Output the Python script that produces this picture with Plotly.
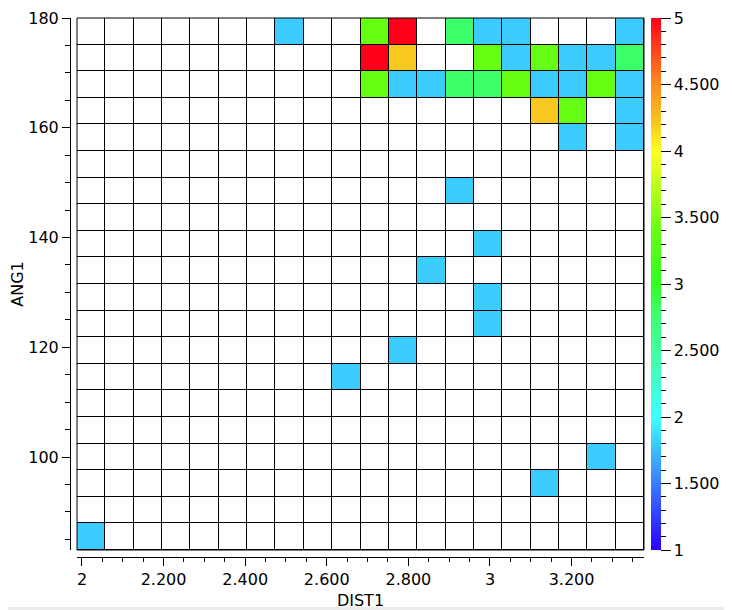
import plotly.graph_objects as go

# ---------------- data ----------------
dist_min, dist_max = 1.9878, 3.3775
ang_min, ang_max = 83.07, 180.0
n_dist_bins = 20
n_ang_bins = 20

# occupied cells: row counted from the top (ANG1 = 180 side), column from left (DIST1 = 2 side)
cell_row = [0, 0, 0, 0, 0, 0, 0,
            1, 1, 1, 1, 1, 1, 1, 1,
            2, 2, 2, 2, 2, 2, 2, 2, 2, 2,
            3, 3, 3,
            4, 4,
            6, 8, 9, 10, 11, 12, 13, 16, 17, 19]
cell_col = [7, 10, 11, 13, 14, 15, 19,
            10, 11, 14, 15, 16, 17, 18, 19,
            10, 11, 12, 13, 14, 15, 16, 17, 18, 19,
            16, 17, 19,
            17, 19,
            13, 14, 12, 14, 14, 11, 9, 18, 16, 0]
cell_value = [1.8, 3.4, 5.0, 2.8, 1.8, 1.8, 1.8,
              5.0, 4.2, 3.4, 1.8, 3.4, 1.8, 1.8, 2.8,
              3.4, 1.8, 1.8, 2.8, 2.8, 3.4, 1.8, 1.8, 3.4, 1.8,
              4.2, 3.4, 1.8,
              1.8, 1.8,
              1.8, 1.8, 1.8, 1.8, 1.8, 1.8, 1.8, 1.8, 1.8, 1.8]

x_tick_vals = [2.0, 2.2, 2.4, 2.6, 2.8, 3.0, 3.2]
x_tick_text = ["2", "2.200", "2.400", "2.600", "2.800", "3", "3.200"]
y_tick_vals = [100, 120, 140, 160, 180]
y_tick_text = ["100", "120", "140", "160", "180"]
cb_tick_vals = [1, 1.5, 2, 2.5, 3, 3.5, 4, 4.5, 5]
cb_tick_text = ["1", "1.500", "2", "2.500", "3", "3.500", "4", "4.500", "5"]
cb_minor_vals = [1 + 0.1 * k for k in range(41)]

# ---------------- build grid ----------------
dx = (dist_max - dist_min) / n_dist_bins
dy = (ang_max - ang_min) / n_ang_bins
z = [[None] * n_dist_bins for _ in range(n_ang_bins)]
for r, c, v in zip(cell_row, cell_col, cell_value):
    z[n_ang_bins - 1 - r][c] = v
z_bg = [[1] * n_dist_bins for _ in range(n_ang_bins)]

colorscale = [
    [0.0, "#2A00FF"],
    [0.125, "#3A7CFF"],
    [0.2, "#3CCBFF"],
    [0.25, "#40FFFF"],
    [0.375, "#40FFA0"],
    [0.45, "#3CFF6A"],
    [0.5, "#30FF20"],
    [0.6, "#66FF14"],
    [0.625, "#80FF18"],
    [0.75, "#FFFF20"],
    [0.8, "#F9C81E"],
    [0.875, "#FF8C1E"],
    [1.0, "#FF001A"],
]

# page offset of the figure inside the browser window (body margin)
OFF = 8
W, H = 732 - OFF, 610 - OFF

PLOT_TOP, PLOT_BOTTOM = 18, 550
PLOT_LEFT, PLOT_RIGHT = 77, 644


def fx(px):
    return (px - OFF) / W


def fy(py):
    return 1 - (py - OFF) / H


cb_common = dict(
    x=fx(651), xanchor="left", xpad=0, thickness=10,
    y=fy(PLOT_BOTTOM), yanchor="bottom", ypad=0, lenmode="fraction",
    len=(PLOT_BOTTOM - PLOT_TOP) / H,
    outlinewidth=0, ticks="outside", tickcolor="black",
    ticklabeloverflow="allow",
    tickfont=dict(family="DejaVu Sans", size=16, color="black"),
)

fig = go.Figure()
fig.add_trace(go.Heatmap(
    z=z_bg, x0=dist_min + dx / 2, dx=dx, y0=ang_min + dy / 2, dy=dy,
    colorscale=[[0, "white"], [1, "white"]], zmin=1, zmax=5,
    xgap=1, ygap=1, hoverinfo="skip", showscale=True,
    colorbar=dict(**cb_common, tickmode="array", tickvals=cb_minor_vals,
                  ticktext=[""] * len(cb_minor_vals), ticklen=5),
))
fig.add_trace(go.Heatmap(
    z=z, x0=dist_min + dx / 2, dx=dx, y0=ang_min + dy / 2, dy=dy,
    colorscale=colorscale, zmin=1, zmax=5, xgap=1, ygap=1,
    showscale=True,
    colorbar=dict(**cb_common, tickmode="array", tickvals=cb_tick_vals,
                  ticktext=cb_tick_text, ticklen=10),
))

fig.update_layout(
    width=W, height=H,
    margin=dict(l=0, r=0, t=0, b=0, autoexpand=False),
    paper_bgcolor="white", plot_bgcolor="black",
    font=dict(family="DejaVu Sans", size=16, color="black"),
    showlegend=False,
    shapes=[
        dict(type="rect", xref="x domain", yref="y domain", x0=0, x1=1, y0=0, y1=1,
             line=dict(color="black", width=1), layer="above"),
        dict(type="rect", xref="paper", yref="paper", x0=0, x1=1, y0=0, y1=fy(607),
             fillcolor="#ECECEC", line=dict(width=0), layer="below"),
        dict(type="rect", xref="paper", yref="paper", x0=fx(727), x1=1, y0=0, y1=1,
             fillcolor="#ECECEC", line=dict(width=0), layer="below"),
    ],
)

fig.update_xaxes(
    domain=[fx(PLOT_LEFT), fx(PLOT_RIGHT)], range=[dist_min, dist_max],
    anchor="free", position=fy(PLOT_BOTTOM + 7),
    showgrid=False, zeroline=False, showline=True, linecolor="black", linewidth=1,
    ticks="outside", ticklen=8, tickcolor="black", ticklabeloverflow="allow",
    tickmode="array", tickvals=x_tick_vals, ticktext=x_tick_text,
    minor=dict(tickmode="linear", tick0=2, dtick=0.05, ticks="outside", ticklen=4,
               tickcolor="black", showgrid=False),
    title=dict(text="DIST1", font=dict(size=16)),
)
fig.update_yaxes(
    domain=[fy(PLOT_BOTTOM), fy(PLOT_TOP)], range=[ang_min, ang_max],
    anchor="free", position=fx(PLOT_LEFT - 7),
    showgrid=False, zeroline=False, showline=True, linecolor="black", linewidth=1,
    ticks="outside", ticklen=8, tickcolor="black", ticklabeloverflow="allow",
    tickmode="array", tickvals=y_tick_vals, ticktext=y_tick_text,
    minor=dict(tickmode="linear", tick0=80, dtick=5, ticks="outside", ticklen=5,
               tickcolor="black", showgrid=False),
    title=dict(text="ANG1", font=dict(size=16)),
)

fig.write_html("out.html")
